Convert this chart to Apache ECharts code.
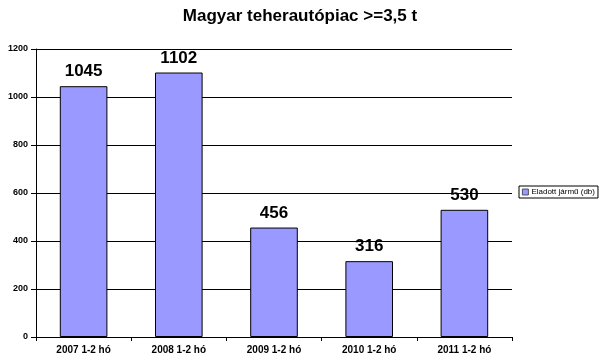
<!DOCTYPE html>
<html><head><meta charset="utf-8">
<script src="https://cdn.jsdelivr.net/npm/echarts@6/dist/echarts.min.js"></script>
<style>html,body{margin:0;padding:0;background:#fff}#c{width:600px;height:363px}</style>
</head><body><div id="c"></div>
<script>
var categories = ['2007 1-2 hó','2008 1-2 hó','2009 1-2 hó','2010 1-2 hó','2011 1-2 hó'];
var values = [1045, 1102, 456, 316, 530];
var seriesName = 'Eladott jármű (db)';
var titleText = 'Magyar teherautópiac >=3,5 t';

var chart = echarts.init(document.getElementById('c'), null, {renderer:'canvas'});
chart.setOption({
  animation: false,
  backgroundColor: '#fff',
  title: {text: titleText, left: 'center', top: 3,
    textStyle: {fontFamily: 'Liberation Sans, Arial', fontWeight: 'bold', fontSize: 17, color: '#000'}},
  legend: {
    left: 519, top: 186, orient: 'vertical',
    data: [seriesName],
    icon: 'rect', itemWidth: 6, itemHeight: 6, itemGap: 0,
    itemStyle: {borderWidth: 0.8, borderColor: '#333'},
    borderColor: '#000', borderWidth: 1, padding: [2, 3, 2, 3],
    textStyle: {fontFamily: 'Liberation Sans, Arial', fontSize: 8, color: '#000', padding: [0,0,0,-2]}
  },
  grid: {left: 36, right: 88, top: 49, bottom: 26, containLabel: false},
  xAxis: {
    type: 'category', data: categories,
    axisLine: {lineStyle: {color: '#000', width: 1}},
    axisTick: {show: true, alignWithLabel: false, length: 4, lineStyle: {color: '#000'}},
    axisLabel: {fontFamily: 'Liberation Sans, Arial', fontWeight: 'bold', fontSize: 10, color: '#000', margin: 8}
  },
  yAxis: {
    type: 'value', min: 0, max: 1200, interval: 200,
    axisLine: {show: true, lineStyle: {color: '#000', width: 1}},
    axisTick: {show: true, inside: false, length: 5, lineStyle: {color: '#000'}},
    splitLine: {show: true, lineStyle: {color: '#000', width: 1}},
    axisLabel: {fontFamily: 'Liberation Sans, Arial', fontWeight: 'bold', fontSize: 9, color: '#000', margin: 8,
      formatter: function(v){ return String(v); }}
  },
  series: [{
    name: seriesName, type: 'bar', data: values,
    barWidth: '50%',
    itemStyle: {color: '#9999FF', borderColor: '#000', borderWidth: 1},
    label: {show: true, position: 'top', distance: 6,
      fontFamily: 'Liberation Sans, Arial', fontWeight: 'bold', fontSize: 17, color: '#000'}
  }]
});
</script></body></html>
